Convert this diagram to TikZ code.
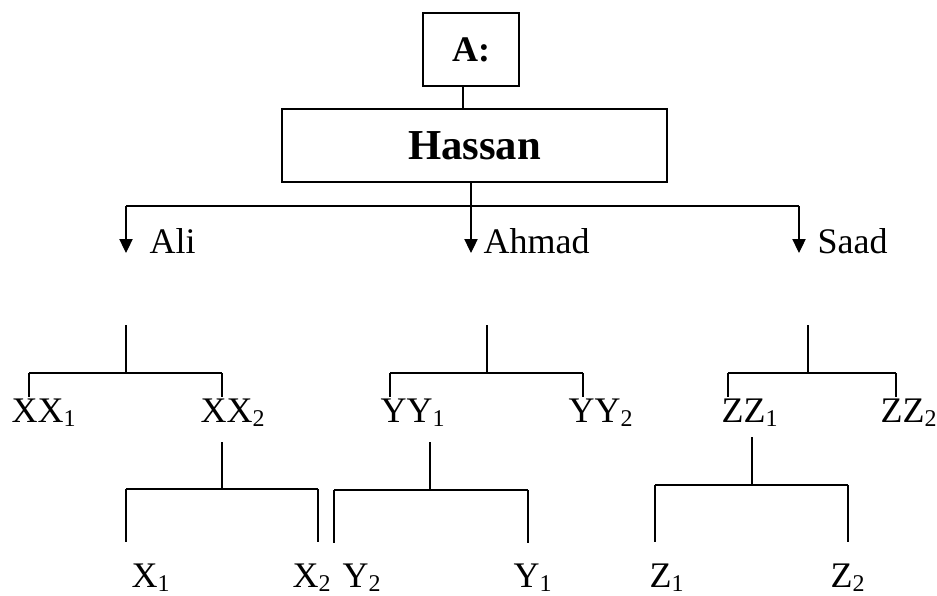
\documentclass[tikz,border=0pt]{standalone}
\usepackage{fontspec}
\setmainfont{Liberation Serif}
\usetikzlibrary{arrows.meta}
\newcommand\lowidx[1]{\raisebox{-3pt}{\fontsize{18}{18}\selectfont#1}}

\begin{document}
\begin{tikzpicture}
  [x=0.75pt,y=-0.75pt,line width=0.8pt,
   >={Triangle[length=10.5pt,width=10pt]},
   lbl/.style={anchor=base west,inner sep=0pt,font=\fontsize{27}{32}\selectfont},
   bar/.style={line width=1.4pt},
   box/.style={draw,line width=1.2pt,inner sep=0pt}]
  \useasboundingbox (0,0) rectangle (937,595);

  % boxes at the top
  \node[box,minimum width=72pt,minimum height=54.75pt,font=\fontsize{27}{32}\selectfont\bfseries]
    (a) at (471,49.5) {A:};
  \node[box,minimum width=288.75pt,minimum height=54.75pt,font=\fontsize{32}{38}\selectfont\bfseries]
    (hassan) at (474.5,145.5) {Hassan};
  \draw ([xshift=-6pt]a.south) -- ([xshift=-6pt]a.south |- hassan.north);

  % sons
  \node[lbl] (ali)   at (149,253) {Ali};
  \node[lbl] (ahmad) at (483,253) {Ahmad};
  \node[lbl] (saad)  at (817,253) {Saad};

  \coordinate (root) at (471,206);
  \coordinate (aliarr)   at (126,253);
  \coordinate (ahmadarr) at (471,253);
  \coordinate (saadarr)  at (799,253);
  \draw (hassan.south -| root) -- (root);
  \draw[bar] (aliarr |- root) -- (saadarr |- root);
  \foreach \to in {aliarr,ahmadarr,saadarr}
    \draw[->] (\to |- root) -- (\to);

  % grandsons
  \node[lbl] (xx1) at (11,422)  {XX\lowidx{1}};
  \node[lbl] (xx2) at (200,422) {XX\lowidx{2}};
  \node[lbl] (yy1) at (380,422) {YY\lowidx{1}};
  \node[lbl] (yy2) at (568,422) {YY\lowidx{2}};
  \node[lbl] (zz1) at (721,422) {ZZ\lowidx{1}};
  \node[lbl] (zz2) at (880,422) {ZZ\lowidx{2}};

  % last generation
  \node[lbl] (x1) at (131,587) {X\lowidx{1}};
  \node[lbl] (x2) at (292,587) {X\lowidx{2}};
  \node[lbl] (y2) at (342,587) {Y\lowidx{2}};
  \node[lbl] (y1) at (513,587) {Y\lowidx{1}};
  \node[lbl] (z1) at (649,587) {Z\lowidx{1}};
  \node[lbl] (z2) at (830,587) {Z\lowidx{2}};

  % brackets: name/stem x/top/bar y/left x/right x/bottom
  \foreach \n/\sx/\ty/\by/\lx/\rx/\bot in
    {ali/126/325/373/29/222/397, ahmad/487/325/373/390/583/397,
     saad/808/325/373/728/896/397, xx2/222/442/489/126/318/542,
     yy1/430/442/490/334/528/543, zz1/752/437/485/655/848/542}
  {
    \coordinate (\n-top) at (\sx,\ty);
    \coordinate (\n-mid) at (\sx,\by);
    \coordinate (\n-l) at (\lx,\bot);
    \coordinate (\n-r) at (\rx,\bot);
    \draw (\n-top) -- (\n-mid);
    \draw[bar] (\n-l |- \n-mid) -- (\n-r |- \n-mid);
    \draw (\n-l |- \n-mid) -- (\n-l);
    \draw (\n-r |- \n-mid) -- (\n-r);
  }

\end{tikzpicture}
\end{document}
